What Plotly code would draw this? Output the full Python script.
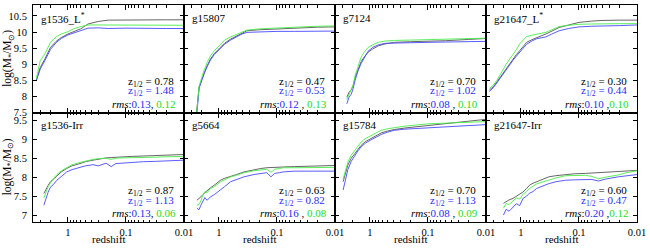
import math
import plotly.graph_objects as go

# ---------------- data ----------------
panel_names = ["g1536_L<sup>*</sup>", "g15807", "g7124", "g21647_L<sup>*</sup>",
               "g1536-Irr", "g5664", "g15784", "g21647-Irr"]
zhalf_black = ["0.78", "0.47", "0.70", "0.30", "0.87", "0.63", "0.70", "0.60"]
zhalf_blue = ["1.48", "0.53", "1.02", "0.44", "1.13", "0.82", "1.13", "0.47"]
rms_blue = ["0.13", "0.12", "0.08", "0.10", "0.13", "0.16", "0.08", "0.20"]
rms_green = ["0.12", "0.13", "0.10", "0.10", "0.06", "0.08", "0.09", "0.12"]
rms_sep = [", ", " , ", " , ", " ,", ", ", " , ", " , ", " ,"]

# panel 1: g1536_L*
z1 = [3.5, 3.0, 2.5, 2.0, 1.6, 1.3, 1.0, 0.8, 0.6, 0.45, 0.3, 0.2, 0.1, 0.05, 0.02, 0.01]
black1 = [8.50, 8.90, 9.16, 9.52, 9.71, 9.83, 9.94, 10.00, 10.10, 10.25, 10.33, 10.37, 10.38, 10.38, 10.38, 10.38]
blue1 = [8.50, 8.85, 9.11, 9.46, 9.67, 9.80, 9.91, 9.97, 10.04, 10.12, 10.13, 10.11, 10.12, 10.11, 10.11, 10.11]
green1 = [8.55, 9.11, 9.32, 9.68, 9.85, 9.94, 10.01, 10.10, 10.17, 10.22, 10.22, 10.22, 10.21, 10.22, 10.21, 10.21]

# panel 2: g15807
z2 = [2.55, 2.4, 2.2, 2.0, 1.8, 1.6, 1.4, 1.2, 0.95, 0.8, 0.63, 0.5, 0.4, 0.33, 0.2, 0.1, 0.05, 0.02, 0.01]
black2 = [7.3, 7.6, 8.28, 8.5, 8.75, 8.95, 9.16, 9.33, 9.52, 9.65, 9.78, 9.88, 9.96, 10.04, 10.07, 10.1, 10.13, 10.15, 10.16]
blue2 = [7.1, 7.45, 8.25, 8.5, 8.73, 8.92, 9.13, 9.3, 9.5, 9.62, 9.75, 9.86, 9.94, 9.99, 10.01, 10.02, 10.02, 10.02, 10.03]
green2 = [7.2, 7.55, 8.32, 8.58, 8.82, 9.05, 9.26, 9.42, 9.63, 9.75, 9.85, 9.93, 10.0, 10.06, 10.1, 10.13, 10.16, 10.18, 10.19]

# panel 3: g7124
z3 = [2.5, 2.3, 2.1, 1.95, 1.8, 1.6, 1.42, 1.25, 1.08, 0.9, 0.72, 0.55, 0.38, 0.2, 0.1, 0.05, 0.02, 0.01]
black3 = [7.97, 8.13, 8.2, 8.34, 8.59, 8.85, 9.08, 9.23, 9.37, 9.47, 9.57, 9.63, 9.68, 9.7, 9.71, 9.73, 9.77, 9.8]
blue3 = [7.77, 7.97, 8.07, 8.24, 8.5, 8.8, 9.02, 9.2, 9.4, 9.52, 9.6, 9.65, 9.66, 9.67, 9.68, 9.69, 9.7, 9.71]
green3 = [7.9, 8.05, 8.18, 8.35, 8.65, 8.97, 9.22, 9.38, 9.52, 9.6, 9.68, 9.72, 9.74, 9.75, 9.76, 9.77, 9.79, 9.81]

# panel 4: g21647_L*
z4 = [3.5, 3.0, 2.6, 2.3, 2.0, 1.8, 1.6, 1.37, 1.2, 1.05, 0.9, 0.8, 0.65, 0.54, 0.45, 0.37, 0.3, 0.22, 0.15, 0.1, 0.06, 0.04, 0.02, 0.01]
black4 = [8.2, 8.3, 8.45, 8.59, 8.72, 8.85, 8.98, 9.16, 9.3, 9.42, 9.55, 9.68, 9.76, 9.83, 9.88, 9.94, 10.03, 10.14, 10.22, 10.3, 10.34, 10.36, 10.37, 10.37]
blue4 = [8.15, 8.27, 8.42, 8.56, 8.7, 8.82, 8.95, 9.12, 9.25, 9.37, 9.5, 9.62, 9.72, 9.79, 9.82, 9.85, 9.93, 10.04, 10.11, 10.16, 10.18, 10.18, 10.2, 10.22]
green4 = [8.25, 8.35, 8.5, 8.65, 8.85, 9.0, 9.12, 9.3, 9.45, 9.63, 9.77, 9.86, 9.9, 9.94, 9.96, 9.99, 10.07, 10.17, 10.21, 10.24, 10.25, 10.26, 10.26, 10.26]

# panel 5: g1536-Irr
z5 = [2.6, 2.4, 2.2, 2.0, 1.8, 1.55, 1.3, 1.05, 0.85, 0.62, 0.5, 0.37, 0.3, 0.22, 0.18, 0.15, 0.12, 0.1, 0.078, 0.05, 0.03, 0.02, 0.01]
black5 = [7.57, 7.68, 7.78, 7.88, 7.95, 8.05, 8.14, 8.23, 8.3, 8.36, 8.41, 8.45, 8.48, 8.51, 8.52, 8.53, 8.54, 8.55, 8.55, 8.56, 8.57, 8.58, 8.6]
blue5 = [7.26, 7.45, 7.6, 7.74, 7.8, 7.92, 8.03, 8.14, 8.2, 8.27, 8.3, 8.33, 8.3, 8.37, 8.28, 8.36, 8.37, 8.38, 8.4, 8.41, 8.42, 8.43, 8.45]
green5 = [7.45, 7.62, 7.75, 7.85, 7.94, 8.07, 8.17, 8.26, 8.33, 8.39, 8.43, 8.47, 8.49, 8.5, 8.47, 8.5, 8.51, 8.51, 8.52, 8.52, 8.53, 8.54, 8.55]

# panel 6: g5664
z6 = [2.4, 2.2, 2.05, 1.9, 1.75, 1.6, 1.4, 1.2, 0.94, 0.8, 0.63, 0.5, 0.37, 0.25, 0.19, 0.15, 0.127, 0.11, 0.09, 0.078, 0.05, 0.03, 0.02, 0.01]
black6 = [7.39, 7.43, 7.48, 7.54, 7.59, 7.66, 7.72, 7.79, 7.92, 7.97, 8.03, 8.07, 8.14, 8.2, 8.23, 8.25, 8.26, 8.26, 8.27, 8.27, 8.28, 8.29, 8.29, 8.31]
blue6 = [7.18, 7.14, 7.26, 7.35, 7.46, 7.39, 7.48, 7.54, 7.68, 7.75, 7.88, 7.94, 8.01, 8.07, 8.1, 8.12, 8.01, 8.1, 8.12, 8.14, 8.16, 8.16, 8.16, 8.16]
green6 = [7.26, 7.28, 7.37, 7.52, 7.62, 7.59, 7.7, 7.75, 7.88, 7.94, 8.01, 8.05, 8.12, 8.17, 8.2, 8.21, 8.13, 8.21, 8.23, 8.25, 8.25, 8.25, 8.26, 8.26]

# panel 7: g15784
z7 = [2.9, 2.6, 2.4, 2.1, 1.83, 1.6, 1.42, 1.2, 0.95, 0.8, 0.64, 0.5, 0.38, 0.25, 0.1, 0.05, 0.02, 0.01]
black7 = [7.88, 8.15, 8.32, 8.5, 8.62, 8.74, 8.84, 8.94, 9.03, 9.1, 9.17, 9.22, 9.26, 9.3, 9.37, 9.42, 9.48, 9.53]
blue7 = [7.66, 8.0, 8.2, 8.42, 8.57, 8.7, 8.8, 8.9, 8.99, 9.06, 9.13, 9.19, 9.24, 9.27, 9.3, 9.33, 9.36, 9.39]
green7 = [7.95, 8.25, 8.4, 8.58, 8.71, 8.83, 8.93, 9.02, 9.1, 9.17, 9.24, 9.28, 9.31, 9.35, 9.41, 9.43, 9.45, 9.47]

# panel 8: g21647-Irr
z8 = [2.0, 1.8, 1.6, 1.37, 1.2, 1.05, 0.92, 0.8, 0.71, 0.62, 0.54, 0.45, 0.33, 0.25, 0.17, 0.12, 0.077, 0.06, 0.046, 0.035, 0.021, 0.015, 0.01]
black8 = [7.31, 7.36, 7.4, 7.44, 7.5, 7.56, 7.61, 7.7, 7.79, 7.84, 7.88, 7.94, 8.01, 8.04, 8.07, 8.09, 8.1, 8.11, 8.12, 8.14, 8.16, 8.17, 8.18]
blue8 = [7.0, 7.15, 7.1, 7.22, 7.3, 7.25, 7.44, 7.5, 7.58, 7.62, 7.7, 7.75, 7.83, 7.88, 7.92, 7.93, 7.94, 7.94, 7.9, 7.95, 8.01, 8.04, 8.07]
green8 = [7.18, 7.3, 7.28, 7.38, 7.45, 7.42, 7.55, 7.62, 7.7, 7.76, 7.82, 7.86, 7.93, 7.98, 8.04, 8.05, 8.05, 8.02, 7.96, 8.0, 8.06, 8.12, 8.17]

zs = [z1, z2, z3, z4, z5, z6, z7, z8]
blacks = [black1, black2, black3, black4, black5, black6, black7, black8]
blues = [blue1, blue2, blue3, blue4, blue5, blue6, blue7, blue8]
greens = [green1, green2, green3, green4, green5, green6, green7, green8]

x_tickvals = [1, 0.1, 0.01]
x_ticktext = ["1", "0.1", "0.01"]
minor_vals = [3, 2] + [m / 10 for m in range(2, 10)] + [m / 100 for m in range(2, 10)]

# ---------------- style ----------------
FONT = "Liberation Serif"
C_BLACK = "#555555"
C_BLUE = "#4848ff"
C_GREEN = "#48ee48"
T_BLUE = "#2a2aff"
T_GREEN = "#22dd22"

W, H = 650, 250
ML, MR, MT, MB = 33, 11, 4, 28
PW, PH = W - ML - MR, H - MT - MB
ROW_SPLIT = 112  # pixel y of border between rows


def xp(px):
    return (px - ML) / PW


def yp(py):
    return (H - MB - py) / PH


split = yp(ROW_SPLIT)
row_ranges = [[7.5, 10.84], [6.816, 9.71]]

fig = go.Figure()
annotations = []
layout = {}

for k in range(8):
    row, col = divmod(k, 4)
    ax = "" if k == 0 else str(k + 1)
    xref, yref = "x" + ax, "y" + ax
    for ys, c in ((blacks[k], C_BLACK), (blues[k], C_BLUE), (greens[k], C_GREEN)):
        fig.add_trace(go.Scatter(x=zs[k], y=ys, mode="lines", xaxis=xref, yaxis=yref,
                                 line=dict(color=c, width=0.9), showlegend=False, hoverinfo="skip"))
    x0, x1 = col * 0.25, (col + 1) * 0.25
    ydom = [split, 1] if row == 0 else [0, split]
    layout["xaxis" + ax] = dict(
        domain=[x0, x1], anchor=yref, type="log", range=[math.log10(4), -2],
        tickvals=x_tickvals, ticktext=x_ticktext, showticklabels=(row == 1),
        ticks="inside", ticklen=5, tickwidth=1, tickcolor="black",
        minor=dict(tickvals=minor_vals, ticks="inside", ticklen=2.5, tickcolor="black", showgrid=False),
        showline=True, linecolor="black", linewidth=1, mirror="ticks",
        showgrid=False, zeroline=False,
        tickfont=dict(family=FONT, size=10.5, color="black"),
    )
    layout["yaxis" + ax] = dict(
        domain=ydom, anchor=xref, range=row_ranges[row], tick0=7.0, dtick=0.5,
        showticklabels=(col == 0), ticks="inside", ticklen=4, tickwidth=1, tickcolor="black",
        showline=True, linecolor="black", linewidth=1, mirror="ticks",
        showgrid=False, zeroline=False, ticklabelstandoff=3,
        tickfont=dict(family=FONT, size=10.5, color="black"),
    )

    Lpx = ML + col * PW / 4
    Rpx = Lpx + PW / 4
    top_px = MT if row == 0 else ROW_SPLIT
    bot_px = ROW_SPLIT if row == 0 else H - MB
    fnt = dict(family=FONT, size=11, color="black")
    annotations.append(dict(x=xp(Lpx + 6), y=yp(top_px + 13), xref="paper", yref="paper",
                            text=panel_names[k], showarrow=False, xanchor="left", yanchor="middle", font=fnt))
    annotations.append(dict(x=xp(Rpx - 8), y=yp(bot_px - 31), xref="paper", yref="paper",
                            text="z<sub>1/2</sub> = " + zhalf_black[k], showarrow=False,
                            xanchor="right", yanchor="middle", font=fnt))
    annotations.append(dict(x=xp(Rpx - 8), y=yp(bot_px - 21.5), xref="paper", yref="paper",
                            text="z<sub>1/2</sub> = " + zhalf_blue[k], showarrow=False,
                            xanchor="right", yanchor="middle", font=dict(family=FONT, size=11, color=T_BLUE)))
    annotations.append(dict(x=xp(Rpx - 6), y=yp(bot_px - 9), xref="paper", yref="paper",
                            text="<i>rms</i>:<span style='color:%s'>%s</span>%s<span style='color:%s'>%s</span>"
                                 % (T_BLUE, rms_blue[k], rms_sep[k], T_GREEN, rms_green[k]),
                            showarrow=False, xanchor="right", yanchor="middle", font=fnt))
    if row == 1:
        annotations.append(dict(x=xp(Lpx + PW / 8), y=yp(239), xref="paper", yref="paper",
                                text="redshift", showarrow=False, xanchor="center", yanchor="middle", font=fnt))

for cy in (58, 167):
    annotations.append(dict(x=xp(8), y=yp(cy), xref="paper", yref="paper",
                            text="log(M<sub>*</sub>/M<sub>⊙</sub>)", textangle=-90, showarrow=False,
                            xanchor="center", yanchor="middle", font=dict(family=FONT, size=11.5, color="black")))

fig.update_layout(
    width=W, height=H, margin=dict(l=ML, r=MR, t=MT, b=MB),
    paper_bgcolor="white", plot_bgcolor="white",
    annotations=annotations, **layout,
)
fig.write_html("out.html", config={"displayModeBar": False},
               post_script="document.body.style.margin='0px';document.body.style.padding='0px';")
